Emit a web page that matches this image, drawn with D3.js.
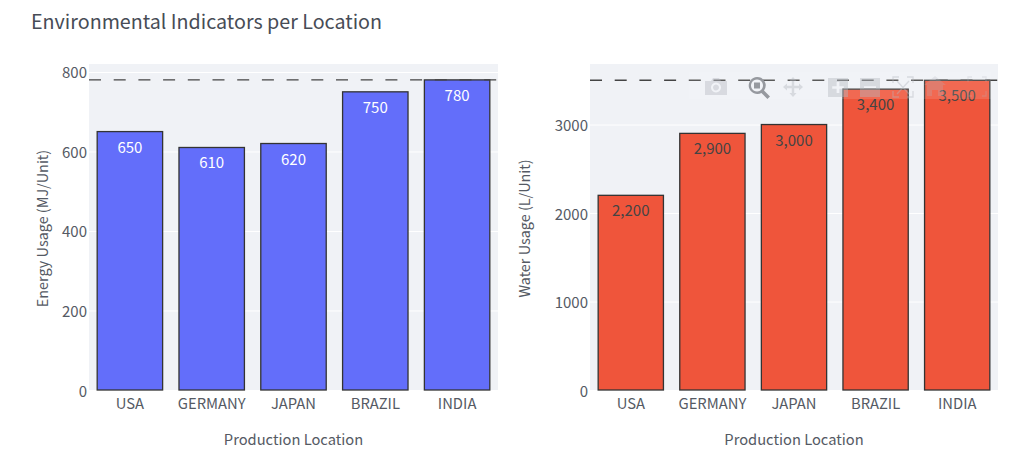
<!doctype html>
<html>
<head>
    <meta charset="UTF-8">
    <script type="text/javascript" src="https://cdn.jsdelivr.net/npm/d3@7/dist/d3.min.js"></script>
    <style type="text/css">
        html, body { margin: 0; padding: 0; background: #fff; overflow: hidden; }
        text { font-family: "Noto Sans CJK SC", "Noto Sans", sans-serif; }
    </style>
</head>
<body>
    <svg id="chart" width="1024" height="466"></svg>

    <script type="text/javascript">
        // data
        var title = "Environmental Indicators per Location";
        var locations = ["USA", "GERMANY", "JAPAN", "BRAZIL", "INDIA"];
        var energyUsage = [650, 610, 620, 750, 780];
        var waterUsage = [2200, 2900, 3000, 3400, 3500];
        var energyTicks = [0, 200, 400, 600, 800];
        var waterTicks = [0, 1000, 2000, 3000];
        var energyMax = 780;
        var waterMax = 3500;

        // formatting
        var top_y = 64, bottom_y = 390;
        var panel_fill = "#f0f2f6";
        var text_col = "#555a64";
        var font_size = "15px";

        var svg = d3.select("#chart");

        svg.append("text")
            .attr("x", 31).attr("y", 28.5)
            .style("font-size", "19.7px")
            .style("fill", "#474c56")
            .text(title);

        function draw_panel(left, right, values, ticks, domain_top, ref, colour, label_col, y_title, y_title_x){
            var x = d3.scaleBand().domain(locations).range([left, right]).paddingInner(0.2).paddingOuter(0.1);
            var y = d3.scaleLinear().domain([0, domain_top]).range([bottom_y, top_y]);
            var g = svg.append("g");

            g.append("rect")
                .attr("x", left).attr("y", top_y)
                .attr("width", right-left).attr("height", bottom_y-top_y)
                .style("fill", panel_fill);

            // grid lines and y labels
            var y_axis = d3.axisLeft(y).tickValues(ticks).tickSize(-(right-left)).tickPadding(2).tickFormat(d3.format("d"));
            var ya = g.append("g").attr("transform", "translate("+left+",0)").call(y_axis);
            ya.select(".domain").remove();
            ya.selectAll("line").style("stroke", "#fff").style("stroke-width", 1);
            ya.selectAll("text").attr("dy", "0.4em").style("font-size", font_size).style("fill", text_col);

            var x_axis = d3.axisBottom(x).tickSize(0).tickPadding(8);
            var xa = g.append("g").attr("transform", "translate(0,"+bottom_y+")").call(x_axis);
            xa.select(".domain").remove();
            xa.selectAll("text").style("font-size", "14.8px").style("fill", text_col);

            g.selectAll(".bar").data(values).enter().append("rect")
                .attr("class", "bar")
                .attr("x", (d,i) => x(locations[i]))
                .attr("y", d => y(d))
                .attr("width", x.bandwidth())
                .attr("height", d => bottom_y-y(d))
                .style("fill", colour)
                .style("stroke", "#333")
                .style("stroke-width", 1.3);

            g.selectAll(".val").data(values).enter().append("text")
                .attr("class", "val")
                .attr("x", (d,i) => x(locations[i])+x.bandwidth()/2)
                .attr("y", d => y(d)+21)
                .attr("text-anchor", "middle")
                .style("font-size", font_size)
                .style("fill", label_col)
                .text(d => d3.format(",")(d));

            g.append("line")
                .attr("x1", left).attr("x2", right)
                .attr("y1", y(ref)).attr("y2", y(ref))
                .style("stroke", "#444")
                .style("stroke-width", 1.4)
                .style("stroke-dasharray", "12,12.7");

            g.append("text")
                .attr("x", (left+right)/2).attr("y", 444.5)
                .attr("text-anchor", "middle")
                .style("font-size", "14.7px")
                .style("fill", text_col)
                .text("Production Location");

            g.append("text")
                .attr("transform", "translate("+y_title_x+",228.5) rotate(-90)")
                .attr("text-anchor", "middle")
                .style("font-size", "14.4px")
                .style("fill", text_col)
                .text(y_title);
        }

        draw_panel(89, 498, energyUsage, energyTicks, 820, energyMax, "#636efa", "#fff", "Energy Usage (MJ/Unit)", 48);
        draw_panel(590, 998, waterUsage, waterTicks, 3684, waterMax, "#ef553b", "#444", "Water Usage (L/Unit)", 530);

        // plotly modebar sitting over the right panel
        var bar = svg.append("g");
        bar.append("rect")
            .attr("x", 689).attr("y", 72).attr("width", 302).attr("height", 27)
            .style("fill", "#fff").style("opacity", 0.12);

        var ic = bar.append("g").style("fill", "#b4b8c0").style("opacity", 0.42);
        // camera
        ic.append("path").attr("fill-rule", "evenodd")
            .attr("d", "M705 81h6l2-3h6l2 3h6v14h-22z M716 82.5a5 5 0 1 0 .01 0z M716 84.5a3 3 0 1 1-.01 0z");
        // pan
        ic.append("path")
            .attr("d", "M793 77l3.5 4h-2.3v4.8h4.8v-2.3l4 3.5-4 3.5v-2.3h-4.8v4.8h2.3l-3.5 4-3.5-4h2.3v-4.8H787v2.3l-4-3.5 4-3.5v2.3h4.8V81h-2.3z");
        // zoom in
        ic.append("path").attr("fill-rule", "evenodd")
            .attr("d", "M828 78h20v19h-20z M836.6 82v4.2h-4.4v2.6h4.4V93h2.8v-4.2h4.4v-2.6h-4.4V82z");
        // zoom out
        ic.append("path").attr("fill-rule", "evenodd")
            .attr("d", "M860 78h20v19h-20z M864 86.2v2.6h12v-2.6z");
        // autoscale
        ic.append("path").style("fill", "none").style("stroke", "#b4b8c0").style("stroke-width", 1.3)
            .attr("d", "M893 83v-6h6 M907 77h6v6 M913 91v6h-6 M899 97h-6v-6 M897 81l12 13 M909 81l-12 13");
        // home
        ic.append("path").style("opacity", 0.6)
            .attr("d", "M935 76l11 9h-3v11h-5v-6h-6v6h-5V85h-3z");
        // spikes
        ic.append("path").style("fill", "none").style("stroke", "#b4b8c0").style("stroke-width", 1.3).style("opacity", 0.6)
            .attr("d", "M968 82v-5h4 M982 77h4v5 M986 91v5h-4 M972 96h-4v-5");
        // zoom (active, darker)
        bar.append("path").attr("fill-rule", "evenodd").style("fill", "#96999f")
            .attr("d", "M757 77a8.5 8.5 0 0 1 7 13.5l6 6-2.6 2.4-6-6A8.5 8.5 0 1 1 757 77z M757 79.5a6 6 0 1 0 .01 0z M754 82.5h6v6h-6z");
    </script>
</body>
</html>
